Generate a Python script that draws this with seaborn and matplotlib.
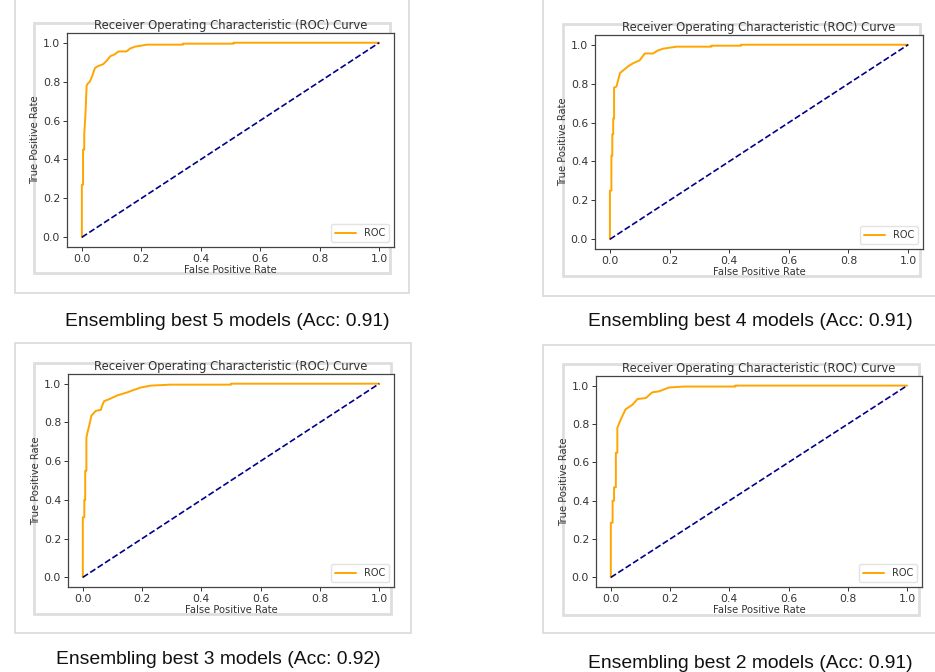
import numpy as np
import pandas as pd
import seaborn as sns
import matplotlib.pyplot as plt
from matplotlib.patches import Rectangle

# ROC curves (step vertices)
fpr5 = [0, 0, 0.004, 0.004, 0.008, 0.008, 0.012, 0.012, 0.016, 0.02, 0.027, 0.035, 0.044, 0.055, 0.072,
        0.085, 0.095, 0.11, 0.123, 0.15, 0.162, 0.179, 0.2, 0.218, 0.34, 0.34, 0.51, 0.51, 1.0]
tpr5 = [0, 0.27, 0.27, 0.45, 0.45, 0.53, 0.63, 0.63, 0.78, 0.79, 0.80, 0.83, 0.87, 0.88, 0.89,
        0.91, 0.93, 0.94, 0.955, 0.955, 0.97, 0.98, 0.985, 0.99, 0.99, 0.995, 0.995, 1.0, 1.0]

fpr4 = [0, 0, 0.005, 0.005, 0.008, 0.008, 0.011, 0.011, 0.014, 0.014, 0.022, 0.028, 0.034, 0.05, 0.062,
        0.078, 0.1, 0.112, 0.117, 0.145, 0.16, 0.179, 0.224, 0.34, 0.34, 0.44, 0.44, 1.0]
tpr4 = [0, 0.25, 0.25, 0.43, 0.43, 0.54, 0.54, 0.62, 0.62, 0.78, 0.785, 0.82, 0.855, 0.875, 0.89,
        0.905, 0.92, 0.945, 0.955, 0.955, 0.97, 0.98, 0.99, 0.99, 0.995, 0.995, 1.0, 1.0]

fpr3 = [0, 0, 0.005, 0.005, 0.008, 0.008, 0.012, 0.012, 0.016, 0.021, 0.029, 0.044, 0.061, 0.066, 0.072,
        0.089, 0.117, 0.15, 0.167, 0.195, 0.229, 0.296, 0.5, 0.5, 1.0]
tpr3 = [0, 0.31, 0.31, 0.40, 0.40, 0.55, 0.55, 0.72, 0.75, 0.78, 0.835, 0.86, 0.865, 0.89, 0.91,
        0.92, 0.94, 0.955, 0.965, 0.98, 0.99, 0.995, 0.995, 1.0, 1.0]

fpr2 = [0, 0, 0.006, 0.006, 0.011, 0.011, 0.017, 0.017, 0.022, 0.022, 0.034, 0.05, 0.073, 0.09, 0.118,
        0.14, 0.163, 0.196, 0.247, 0.42, 0.42, 1.0]
tpr2 = [0, 0.285, 0.285, 0.40, 0.40, 0.47, 0.47, 0.65, 0.65, 0.78, 0.825, 0.877, 0.90, 0.93, 0.935,
        0.965, 0.97, 0.99, 0.995, 0.995, 1.0, 1.0]

diag = [0, 1]
captions = ["Ensembling best 5 models (Acc: 0.91)", "Ensembling best 4 models (Acc: 0.91)",
            "Ensembling best 3 models (Acc: 0.92)", "Ensembling best 2 models (Acc: 0.91)"]
ticks = [0.0, 0.2, 0.4, 0.6, 0.8, 1.0]

sns.set_theme(style="ticks")
plt.rcParams['font.family'] = ['DejaVu Sans']

W, H = 935, 672
fig = plt.figure(figsize=(9.35, 6.72), dpi=100)

def px_rect(x0, y0, x1, y1, **kw):
    # rectangle given in pixel coords (top-left origin)
    r = Rectangle((x0 / W, 1 - y1 / H), (x1 - x0) / W, (y1 - y0) / H,
                  transform=fig.transFigure, zorder=-1, **kw)
    fig.add_artist(r)

# screenshot cards and their grey inner borders
cards = [(15, -5, 409, 293), (543, -5, 945, 296), (15, 343, 411, 633), (543, 345, 945, 633)]
inner = [(34, 23, 390, 273), (563, 24, 920, 276), (34, 363, 391, 614), (563, 364, 919, 615)]
for c in cards:
    px_rect(*c, facecolor='white', edgecolor='#d9d9d9', linewidth=1.2)
for c in inner:
    px_rect(*c, facecolor='white', edgecolor='#dedede', linewidth=2)

axes_px = [(67, 33, 394, 247), (595, 35, 923, 249), (68, 374, 394, 587), (596, 376, 922, 587)]
curves = [(fpr5, tpr5), (fpr4, tpr4), (fpr3, tpr3), (fpr2, tpr2)]
cap_pos = [(227, 321), (750, 321), (218, 659), (750, 663)]

txt = '#333333'
for (x0, y0, x1, y1), (fpr, tpr), cap, (cx, cy) in zip(axes_px, curves, captions, cap_pos):
    ax = fig.add_axes([x0 / W, 1 - y1 / H, (x1 - x0) / W, (y1 - y0) / H])
    df = pd.DataFrame({'fpr': fpr, 'tpr': tpr})
    sns.lineplot(data=df, x='fpr', y='tpr', color='orange', label='ROC', lw=1.4,
                 estimator=None, sort=False, ax=ax)
    sns.lineplot(x=diag, y=diag, color='darkblue', linestyle='--', lw=1.2,
                 estimator=None, sort=False, ax=ax)
    ax.set_xticks(ticks)
    ax.set_yticks(ticks)
    ax.tick_params(labelsize=7.8, colors=txt, length=3, width=0.7, pad=2)
    for s in ax.spines.values():
        s.set_color('#444444')
        s.set_linewidth(0.9)
    ax.set_xlabel('False Positive Rate', fontsize=7.2, color=txt, labelpad=1)
    ax.set_ylabel('True Positive Rate', fontsize=7.2, color=txt, labelpad=2)
    ax.set_title('Receiver Operating Characteristic (ROC) Curve', fontsize=8.4, color=txt, pad=3)
    leg = ax.legend(loc='lower right', fontsize=7, frameon=True, handlelength=2.2)
    leg.get_frame().set_edgecolor('#dddddd')
    for t in leg.get_texts():
        t.set_color(txt)
    fig.text(cx / W, 1 - cy / H, cap, ha='center', va='center', fontsize=13.9,
             family='Liberation Sans', color='#111111')

fig.savefig('out.png', dpi=100, facecolor='white')
